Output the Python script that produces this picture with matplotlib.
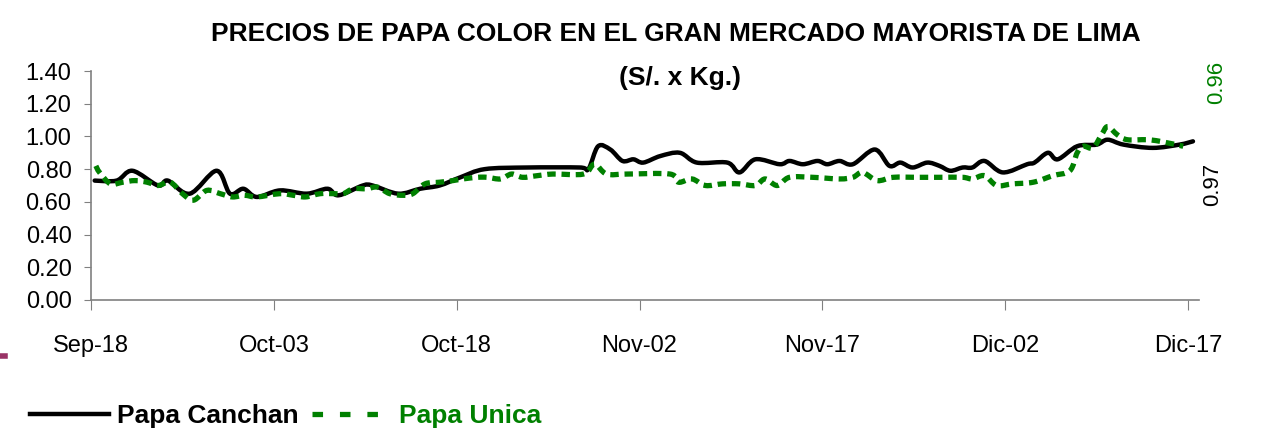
from matplotlib import pyplot as plt
from matplotlib.path import Path
from matplotlib.patches import PathPatch
from matplotlib.lines import Line2D
import numpy as np

# days counted from Sep-18, prices in S/. x Kg.
canchan_day = [0.3, 2.1, 3.4, 5.5, 6.3, 8.1, 10.3, 11.4, 12.5, 13.6, 15.5, 17.7, 19.4, 20.3,
               22.3, 23.1, 25.2, 27.0, 28.6, 30.3, 32.3, 35.8, 40.1, 40.8, 41.6, 42.6, 43.6,
               44.5, 45.3, 46.7, 48.3, 49.7, 52.2, 53.2, 54.5, 56.5, 57.3, 58.4, 59.6, 60.4,
               61.4, 62.5, 64.3, 65.5, 66.4, 67.4, 68.6, 69.6, 70.5, 71.5, 72.3, 73.3, 74.8,
               76.8, 77.4, 78.5, 79.3, 80.9, 82.5, 83.4, 84.7, 87.1, 89.3, 90.4]
canchan = [0.73, 0.73, 0.79, 0.70, 0.73, 0.65, 0.79, 0.65, 0.68, 0.63, 0.67, 0.65, 0.68, 0.64,
           0.70, 0.70, 0.65, 0.68, 0.70, 0.75, 0.80, 0.81, 0.81, 0.80, 0.94, 0.92, 0.85,
           0.86, 0.84, 0.88, 0.90, 0.84, 0.84, 0.78, 0.86, 0.83, 0.85, 0.83, 0.85, 0.83,
           0.85, 0.83, 0.92, 0.82, 0.84, 0.81, 0.84, 0.82, 0.79, 0.81, 0.81, 0.85, 0.78,
           0.83, 0.84, 0.90, 0.86, 0.94, 0.95, 0.98, 0.95, 0.93, 0.95, 0.97]

unica_day = [0.4, 0.7, 1.6, 2.6, 3.6, 4.6, 5.5, 6.5, 7.5, 8.4, 9.5, 10.6, 11.6, 12.6, 13.6,
             15.5, 16.6, 17.6, 18.8, 19.9, 20.7, 21.5, 22.6, 23.5, 24.5, 25.6, 26.4, 27.4,
             28.6, 29.7, 30.5, 31.7, 32.5, 33.6, 34.5, 35.4, 36.6, 37.9, 40.4, 41.3, 42.3,
             44.0, 47.5, 48.2, 49.3, 50.4, 51.8, 53.2, 54.5, 55.3, 56.3, 57.3, 59.2, 61.4,
             62.5, 63.3, 64.5, 65.8, 67.8, 69.6, 71.5, 72.3, 73.3, 74.3, 75.6, 77.3, 78.9,
             80.3, 80.9, 81.4, 82.2, 82.9, 83.4, 84.2, 85.0, 86.6, 87.7, 89.6]
unica = [0.82, 0.78, 0.71, 0.72, 0.73, 0.72, 0.70, 0.72, 0.65, 0.61, 0.67, 0.65, 0.63, 0.64, 0.63,
         0.65, 0.64, 0.63, 0.65, 0.65, 0.65, 0.68, 0.68, 0.69, 0.65, 0.64, 0.65, 0.71,
         0.72, 0.73, 0.74, 0.75, 0.75, 0.74, 0.77, 0.75, 0.76, 0.77, 0.77, 0.83, 0.77,
         0.77, 0.77, 0.72, 0.74, 0.70, 0.71, 0.71, 0.70, 0.74, 0.70, 0.75, 0.75, 0.74,
         0.75, 0.78, 0.73, 0.75, 0.75, 0.75, 0.75, 0.74, 0.76, 0.70, 0.71, 0.72, 0.76,
         0.79, 0.90, 0.94, 0.93, 1.01, 1.06, 1.01, 0.98, 0.98, 0.97, 0.94]

tick_days = [0, 15, 30, 45, 60, 75, 90]
tick_labels = ["Sep-18", "Oct-03", "Oct-18", "Nov-02", "Nov-17", "Dic-02", "Dic-17"]
last_canchan = "0.97"
last_unica = "0.96"

plt.rcParams['font.family'] = ['Liberation Sans', 'DejaVu Sans']
green = "#008000"


def smooth_path(xs, ys):
    # Excel-style smoothed line: Catmull-Rom segments as cubic Beziers
    p = np.column_stack([xs, ys]).astype(float)
    n = len(p)
    verts = [p[0]]
    codes = [Path.MOVETO]
    for i in range(n - 1):
        p0 = p[i - 1] if i > 0 else p[i]
        p1, p2 = p[i], p[i + 1]
        p3 = p[i + 2] if i + 2 < n else p[i + 1]
        verts += [p1 + (p2 - p0) / 6, p2 - (p3 - p1) / 6, p2]
        codes += [Path.CURVE4] * 3
    return Path(verts, codes)


fig = plt.figure(figsize=(12.71, 4.34), dpi=100)
ax = fig.add_axes([0.0716, 0.3088, 0.8718, 0.5276])

ax.add_patch(PathPatch(smooth_path(canchan_day, canchan), fill=False, edgecolor="black",
                       lw=3.2, joinstyle="round", capstyle="round"))
ax.add_patch(PathPatch(smooth_path(unica_day, unica), fill=False, edgecolor=green,
                       lw=3.8, linestyle=(0, (1.6, 1.1)), capstyle="butt"))

ax.set_xlim(0, 90.9)
ax.set_ylim(0, 1.4)
ax.set_yticks([0, 0.2, 0.4, 0.6, 0.8, 1.0, 1.2, 1.4])
ax.set_yticklabels(["%.2f" % v for v in ax.get_yticks()])
ax.set_xticks(tick_days)
ax.set_xticklabels(tick_labels)
for s in ["top", "right"]:
    ax.spines[s].set_visible(False)
for s in ["left", "bottom"]:
    ax.spines[s].set_color("#808080")
    ax.spines[s].set_linewidth(1.2)
ax.tick_params(axis="y", length=5, color="#808080", labelsize=17, pad=9)
ax.tick_params(axis="x", length=7, color="#808080", labelsize=17, pad=18)

fig.text(0.532, 0.922, "PRECIOS DE PAPA COLOR EN EL GRAN MERCADO MAYORISTA DE LIMA",
         ha="center", va="center", fontsize=19, fontweight="bold")
fig.text(0.535, 0.82, "(S/. x Kg.)", ha="center", va="center", fontsize=19,
         fontweight="bold")

fig.text(0.9575, 0.811, last_unica, rotation=90, color=green, fontsize=16,
         ha="center", va="center")
fig.text(0.9544, 0.574, last_canchan, rotation=90, color="black", fontsize=16,
         ha="center", va="center")

# small mark at left edge
fig.add_artist(plt.Line2D([0, 0.004], [0.18, 0.18], color="#993366", lw=4))

handles = [Line2D([], [], color="black", lw=3.2),
           Line2D([], [], color=green, lw=3.8, dashes=(2.0, 3.2), dash_capstyle="butt")]
leg = fig.legend(handles, ["Papa Canchan", "Papa Unica"], loc="center left",
                 bbox_to_anchor=(0.005, 0.041), ncol=2, frameon=False,
                 handlelength=3.0, handletextpad=0.3, columnspacing=0.5,
                 prop={"size": 19, "weight": "bold"})
for txt, c in zip(leg.get_texts(), ["black", green]):
    txt.set_color(c)

fig.savefig("out.png", dpi=100)
